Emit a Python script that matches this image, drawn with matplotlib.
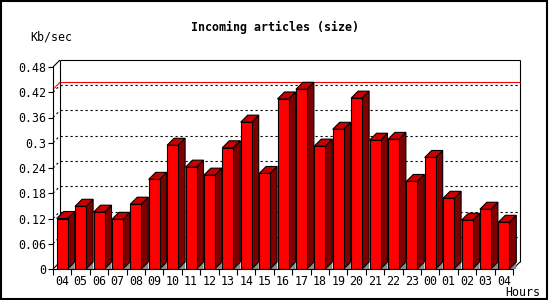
import matplotlib
matplotlib.use('Agg')
import matplotlib.pyplot as plt
from matplotlib.patches import Polygon, Rectangle
import numpy as np

matplotlib.rc('font', family='DejaVu Sans Mono', size=8.4)

hours = ['04', '05', '06', '07', '08', '09', '10', '11', '12', '13', '14', '15', '16',
         '17', '18', '19', '20', '21', '22', '23', '00', '01', '02', '03', '04']
kbps = [0.120, 0.149, 0.135, 0.118, 0.154, 0.213, 0.294, 0.242, 0.223, 0.288, 0.349, 0.227,
        0.404, 0.427, 0.292, 0.332, 0.406, 0.306, 0.308, 0.208, 0.265, 0.168, 0.116, 0.142, 0.111]
yticks = [0, 0.06, 0.12, 0.18, 0.24, 0.3, 0.36, 0.42, 0.48]
ytick_labels = ['0', '0.06', '0.12', '0.18', '0.24', '0.3', '0.36', '0.42', '0.48']

W, H = 550, 300
fig = plt.figure(figsize=(W / 100, H / 100), dpi=100)
# front plane of the pseudo 3d box, in pixels
x0, x1, ytop, ybot = 53, 513, 67, 269
ax = fig.add_axes([x0 / W, 1 - ybot / H, (x1 - x0) / W, (ybot - ytop) / H])
n = len(hours)
ymax = 0.48
ax.set_xlim(-0.5, n - 0.5)
ax.set_ylim(0, ymax)

# depth offset: 7 px right and up, in data units
dx = 7 / ((x1 - x0) / n)
dy = 7 / ((ybot - ytop) / ymax)
lw = 0.8

def line(xs, ys, **kw):
    kw.setdefault('color', 'black')
    kw.setdefault('lw', lw)
    ax.plot(xs, ys, clip_on=False, solid_capstyle='butt', **kw)

# back wall
left, right = -0.5, n - 0.5
for t in yticks[1:-1]:
    line([left + dx, right + dx], [t + dy, t + dy], ls=(0, (2, 2.5)), zorder=1)
    line([left, left + dx], [t, t + dy], ls=(0, (2, 2.5)), zorder=1)
peak = max(kbps)
line([left + dx, right + dx], [peak + dy, peak + dy], color='red', zorder=1.5)
line([left, left + dx], [peak, peak + dy], color='red', zorder=1.5)
line([left + dx, right + dx], [ymax + dy, ymax + dy], zorder=1)
line([left + dx, left + dx], [dy, ymax + dy], zorder=1)
line([left, left + dx], [ymax, ymax + dy], zorder=1)
line([left, left + dx], [0, dy], zorder=1)
line([right + dx, right + dx], [dy, ymax + dy], zorder=1)
line([right, right + dx], [0, dy], zorder=1)

# bars
w = 11 / ((x1 - x0) / n)
for i, v in enumerate(kbps):
    xl, xr = i - w / 2, i + w / 2
    floor = Polygon([(xr, 0), (xr + dx, dy), (xr + dx, 0)], closed=True,
                    facecolor='#8c8c8c', edgecolor='none', zorder=2, clip_on=False)
    side = Polygon([(xr, 0), (xr + dx, dy), (xr + dx, v + dy), (xr, v)], closed=True,
                   facecolor='#800000', edgecolor='black', lw=lw, zorder=3, clip_on=False)
    top = Polygon([(xl, v), (xl + dx, v + dy), (xr + dx, v + dy), (xr, v)], closed=True,
                  facecolor='#c80000', edgecolor='black', lw=lw, zorder=3, clip_on=False)
    ax.add_patch(floor)
    ax.add_patch(side)
    ax.add_patch(top)
    ax.bar(i, v, width=w, color='#ff0000', edgecolor='black', lw=lw, zorder=4)

for s in ['top', 'right']:
    ax.spines[s].set_visible(False)
for s in ['left', 'bottom']:
    ax.spines[s].set_linewidth(lw)
    ax.spines[s].set_zorder(5)

ax.set_yticks(yticks)
ax.set_yticklabels(ytick_labels)
ax.set_xticks(np.arange(n))
ax.set_xticklabels(hours)
ax.set_xticks(np.arange(n + 1) - 0.5, minor=True)
ax.tick_params(axis='y', direction='out', length=3.5, width=lw, pad=1.5)
ax.tick_params(axis='x', which='major', length=0, pad=4)
ax.tick_params(axis='x', which='minor', direction='out', length=4, width=lw)

fig.text(275 / W, 1 - 27 / H, 'Incoming articles (size)', ha='center', va='center',
         fontweight='bold')
fig.text(30 / W, 1 - 37 / H, 'Kb/sec', ha='left', va='center')
fig.text(505 / W, 1 - 292 / H, 'Hours', ha='left', va='center')

# image frame
fig.patches.append(Rectangle((1 / W, 1.5 / H), 546 / W, 297.5 / H, transform=fig.transFigure,
                             fill=False, edgecolor='black', lw=1.5))

fig.savefig('out.png', dpi=100)
